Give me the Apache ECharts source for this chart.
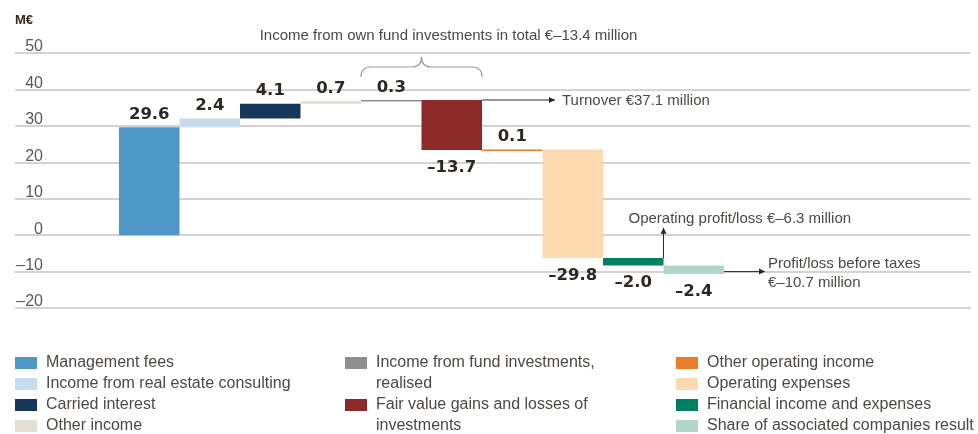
<!DOCTYPE html>
<html>
<head>
<meta charset="utf-8">
<script src="https://cdn.jsdelivr.net/npm/echarts@6/dist/echarts.min.js"></script>
<style>
  html, body { margin: 0; padding: 0; background: #fff; }
  #chart { width: 978px; height: 434px; }
</style>
</head>
<body>
<div id="chart"></div>
<script>
// values in M€
var categories = [
  "Management fees",
  "Income from real estate consulting",
  "Carried interest",
  "Other income",
  "Income from fund investments, realised",
  "Fair value gains and losses of investments",
  "Other operating income",
  "Operating expenses",
  "Financial income and expenses",
  "Share of associated companies result"
];
var deltas = [29.6, 2.4, 4.1, 0.7, 0.3, -13.7, 0.1, -29.8, -2.0, -2.4];
var colors = ["#4f97c7", "#c6dbed", "#17375a", "#e3ddd2", "#8f8f8f",
              "#8c2a27", "#e87d2b", "#fdd9b0", "#007f63", "#b3d6ca"];
var yTicks = [-20, -10, 0, 10, 20, 30, 40, 50];

// legend columns (indexes into categories)
var legendCols = [[0, 1, 2, 3], [4, 5], [6, 7, 8, 9]];
var legendWrap = {
  "Income from fund investments, realised": "Income from fund investments,\nrealised",
  "Fair value gains and losses of investments": "Fair value gains and losses of\ninvestments"
};

// annotation texts
var noteTitle = "Income from own fund investments in total €–13.4 million";
var noteTurnover = "Turnover €37.1 million";
var noteOperating = "Operating profit/loss €–6.3 million";
var noteProfit = "Profit/loss before taxes\n€–10.7 million";

var FONT = '"Liberation Sans", Arial, sans-serif';
var TEXT = "#4d4843";
var DARK = "#2e2823";

var chart = echarts.init(document.getElementById("chart"));

// running totals for the waterfall
var series = [];
var level = 0;
deltas.forEach(function (d, i) {
  var lo = Math.min(level, level + d);
  var hi = Math.max(level, level + d);
  series.push({
    type: "custom",
    name: categories[i],
    xAxisIndex: 1,
    yAxisIndex: 1,
    itemStyle: { color: colors[i] },
    data: [[i, lo, hi, d]],
    renderItem: renderBar
  });
  level += d;
});

function fmt(v) {
  return (v < 0 ? "–" : "") + Math.abs(v).toFixed(1);
}

function renderBar(params, api) {
  var i = api.value(0), v = api.value(3);
  var top = api.coord([i, api.value(2)]);
  var bot = api.coord([i, api.value(1)]);
  var w = api.size([1, 0])[0];
  var h = Math.max(bot[1] - top[1], 1.5);
  var pos = v >= 0
    ? { y: top[1] - 4, verticalAlign: "bottom" }
    : { y: top[1] + h + 9, verticalAlign: "top" };
  return {
    type: "group",
    children: [
      {
        type: "rect",
        shape: { x: top[0] - w / 2, y: top[1], width: w, height: h },
        style: { fill: api.visual("color") }
      },
      {
        type: "text",
        x: top[0],
        y: pos.y,
        style: {
          text: fmt(v),
          align: "center",
          verticalAlign: pos.verticalAlign,
          font: 'bold 16.5px "DejaVu Sans", sans-serif',
          fill: DARK
        }
      }
    ]
  };
}

var legends = [];
var colLeft = [15, 345, 676];
legendCols.forEach(function (col, c) {
  if (c === 1) {
    // wrapped items: one legend each; a leading blank line keeps the icon on the first line
    col.forEach(function (idx, k) {
      legends.push({
        left: colLeft[c], top: 331.5 + k * 42, height: 100, orient: "vertical", padding: 0,
        icon: "rect", itemWidth: 22, itemHeight: 12, itemGap: 0,
        selectedMode: false,
        data: [categories[idx]],
        formatter: function (n) { return "\n" + (legendWrap[n] || n); },
        textStyle: { fontFamily: FONT, fontSize: 16, color: TEXT, lineHeight: 21, padding: [0, 0, 0, 4] }
      });
    });
  } else {
    legends.push({
      left: colLeft[c], top: 352.5, height: 100, orient: "vertical", padding: 0,
      icon: "rect", itemWidth: 22, itemHeight: 12, itemGap: 0,
      selectedMode: false,
      data: col.map(function (idx) { return categories[idx]; }),
      textStyle: { fontFamily: FONT, fontSize: 16, color: TEXT, lineHeight: 21, padding: [0, 0, 0, 4] }
    });
  }
});

var option = {
  animation: false,
  textStyle: { fontFamily: FONT },
  grid: [
    { left: 15, right: 7, top: 53, bottom: 126 },   // gridlines + tick labels
    { left: 119, right: 254, top: 53, bottom: 126 } // bars
  ],
  xAxis: [
    { gridIndex: 0, type: "value", show: false, min: 0, max: 1 },
    { gridIndex: 1, type: "category", data: categories, show: false }
  ],
  yAxis: [
    {
      gridIndex: 0, type: "value",
      min: yTicks[0], max: yTicks[yTicks.length - 1], interval: 10,
      axisLine: { show: false }, axisTick: { show: false },
      splitLine: { lineStyle: { color: "#c4c4c4", width: 1.5 } },
      axisLabel: {
        inside: true, margin: 28, align: "right", verticalAlign: "bottom",
        lineHeight: 12, fontSize: 16, color: "#5a5a5a",
        formatter: function (v) { return v < 0 ? "–" + Math.abs(v) : String(v); }
      }
    },
    {
      gridIndex: 1, type: "value", show: false,
      min: yTicks[0], max: yTicks[yTicks.length - 1], interval: 10,
      splitLine: { show: false }
    }
  ],
  legend: legends,
  series: series
};

chart.setOption(option);

// annotations placed from the bar scale
function px(i, v) {
  return chart.convertToPixel({ xAxisIndex: 1, yAxisIndex: 1 }, [i, v]);
}
var half = (px(1, 0)[0] - px(0, 0)[0]) / 2;
var ends = [];
level = 0;
deltas.forEach(function (d) { level += d; ends.push(level); });

function arrowHead(x, y, dir) {
  var pts = dir === "right"
    ? [[x, y], [x - 6, y - 3], [x - 6, y + 3]]
    : [[x, y], [x - 3, y + 6], [x + 3, y + 6]];
  return { type: "polygon", shape: { points: pts }, style: { fill: DARK } };
}
function line(pts) {
  return { type: "polyline", shape: { points: pts }, style: { stroke: DARK, lineWidth: 1 } };
}
function note(x, y, txt, align) {
  return {
    type: "text", x: x, y: y,
    style: { text: txt, font: "15px " + FONT, fill: TEXT, align: align || "left", verticalAlign: "middle", lineHeight: 19 }
  };
}
function curve(x1, y1, cx, cy, x2, y2) {
  return {
    type: "bezierCurve",
    shape: { x1: x1, y1: y1, cpx1: cx, cpy1: cy, x2: x2, y2: y2 },
    style: { stroke: "#9a9a9a", lineWidth: 1.2, fill: null }
  };
}

// brace over the own fund investments bars (4 and 5)
var bL = px(4, 0)[0] - half, bR = px(5, 0)[0] + half, bC = (bL + bR) / 2;
var yB = 77, yM = 67, yT = 57;
var brace = [
  curve(bL, yB, bL, yM, bL + 10, yM),
  { type: "line", shape: { x1: bL + 10, y1: yM, x2: bC - 10, y2: yM }, style: { stroke: "#9a9a9a", lineWidth: 1.2 } },
  curve(bC - 10, yM, bC, yM, bC, yT),
  curve(bC, yT, bC, yM, bC + 10, yM),
  { type: "line", shape: { x1: bC + 10, y1: yM, x2: bR - 10, y2: yM }, style: { stroke: "#9a9a9a", lineWidth: 1.2 } },
  curve(bR - 10, yM, bR, yM, bR, yB)
];

var turn = px(5, ends[4]);
var turnX0 = turn[0] + half, turnX1 = turnX0 + 73;
var op = px(8, ends[7]);
var opX = op[0] + half, opTop = px(8, 2)[1];
var pr = px(9, -10);
var prX0 = pr[0] + half, prX1 = prX0 + 41;

chart.setOption({
  graphic: [
    { type: "text", x: 15, y: 20, style: { text: "M€", font: "bold 13px " + FONT, fill: DARK, verticalAlign: "middle" } },
    note(bC + 27, 36, noteTitle, "center"),
    line([[turnX0, turn[1]], [turnX1, turn[1]]]),
    arrowHead(turnX1, turn[1], "right"),
    note(turnX1 + 7, turn[1] + 1, noteTurnover),
    line([[opX, op[1]], [opX, opTop]]),
    arrowHead(opX, opTop, "up"),
    note(opX - 35, opTop - 9, noteOperating),
    line([[prX0, pr[1]], [prX1, pr[1]]]),
    arrowHead(prX1, pr[1], "right"),
    note(prX1 + 3, pr[1] + 1.5, noteProfit)
  ].concat(brace)
});
</script>
</body>
</html>
